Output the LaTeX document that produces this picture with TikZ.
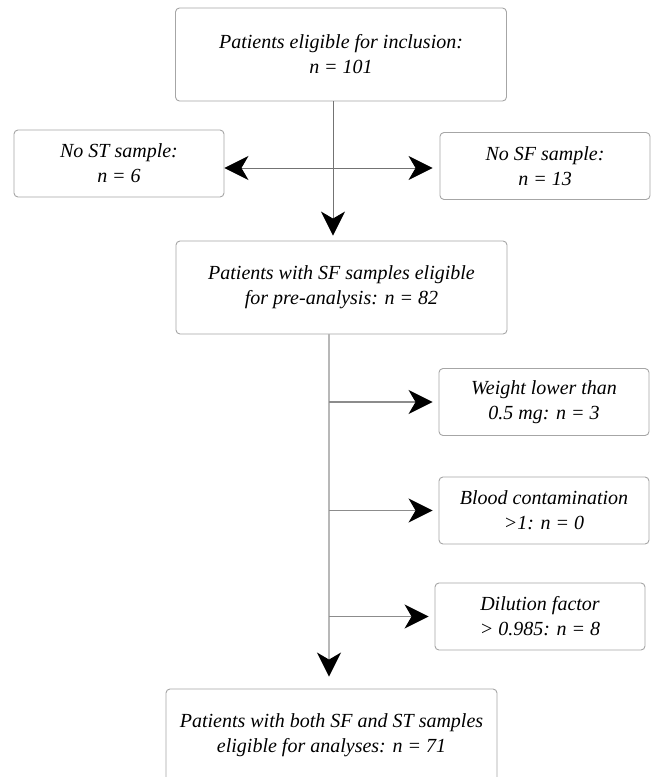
\documentclass[tikz,border=0pt]{standalone}
\usepackage{fontspec}
\setmainfont{Liberation Serif}
\usetikzlibrary{arrows.meta}

\begin{document}
\begin{tikzpicture}
	[
	x=1pt, y=-1pt,
	align=center,
	font=\fontsize{20}{25}\selectfont\itshape,
	every node/.style={rectangle, rounded corners=4pt, draw=black!35, line width=0.9pt, fill=white, inner sep=0pt},
	bigbox/.style={minimum width=331pt, minimum height=93pt},
	smallbox/.style={minimum width=210pt, minimum height=67pt},
	tip/.style={-{Stealth[length=24pt, width=24pt, inset=7pt, color=black]}},
	link/.style={tip, draw=black!55, line width=0.9pt},
	trunk/.style={tip, draw=black!28, line width=1.8pt},
	branch/.style={tip, draw=black!45, line width=1.1pt, shorten >=6pt}
	]
		\path [use as bounding box, fill=white] (0, 0) rectangle (652, 777);

		% inclusion
		\node [bigbox] (inc) at (341, 54.5) {Patients eligible for inclusion:\\ n = 101};

		% missing samples
		\node [smallbox] (nost) at (119, 163.5) {No ST sample:\\ n = 6};
		\node [smallbox] (nosf) at (545, 166) {No SF sample:\\ n = 13};

		% pre-analysis
		\node [bigbox] (pre) at (341.5, 287.5) {Patients with SF samples eligible\\ for pre-analysis: n = 82};

		% exclusions
		\node [smallbox] (wgt) at (544, 402) {Weight lower than\\ 0.5 mg: n = 3};
		\node [smallbox] (blood) at (544, 510.5) {Blood contamination\\ >1: n = 0};
		\node [smallbox] (dil) at (540, 616.5) {Dilution factor\\ > 0.985: n = 8};

		% analyses
		\node [bigbox] (both) at (331.5, 735.5) {Patients with both SF and ST samples\\ eligible for analyses: n = 71};

		% drawing code
		\coordinate (split) at (333, 168);
		\coordinate (fork) at (329, 334);
		\draw [link, shorten >=5pt] (inc.south -| split) -- (pre.north -| split);
		\draw [link] (split) -- (nost.east |- split);
		\draw [link, shorten >=7pt] (split) -- (nosf.west |- split);
		\draw [trunk, shorten >=12pt] (pre.south -| fork) -- (both.north -| fork);
		\foreach \to in {wgt,blood,dil} \draw [branch] (\to -| fork) -- (\to.west);
	\end{tikzpicture}
\end{document}
